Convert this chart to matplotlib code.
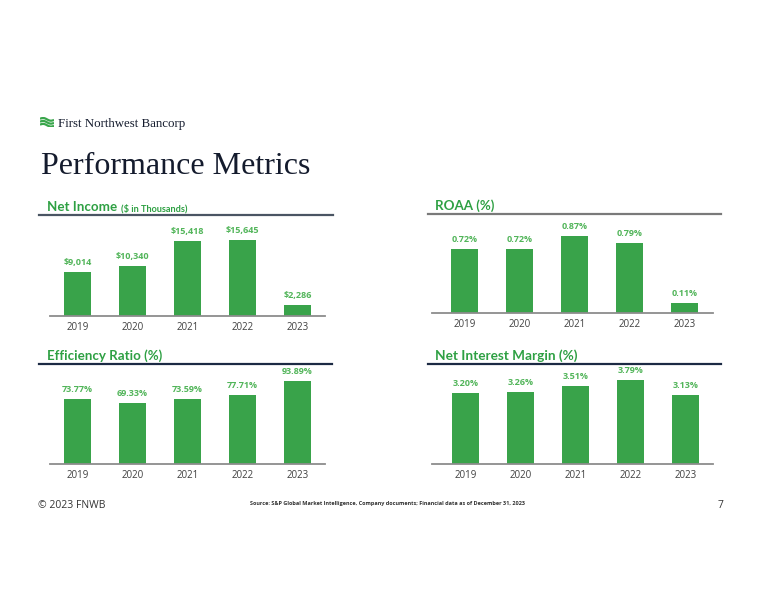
import matplotlib
matplotlib.use('Agg')
import numpy as np
import matplotlib.pyplot as plt
from matplotlib.lines import Line2D

# 数据
years = ['2019', '2020', '2021', '2022', '2023']
net_income = [9014, 10340, 15418, 15645, 2286]
roaa = [0.72, 0.72, 0.87, 0.79, 0.11]
efficiency = [73.77, 69.33, 73.59, 77.71, 93.89]
nim = [3.20, 3.26, 3.51, 3.79, 3.13]

net_income_labels = ['$%s' % format(v, ',') for v in net_income]
roaa_labels = ['%.2f%%' % v for v in roaa]
efficiency_labels = ['%.2f%%' % v for v in efficiency]
nim_labels = ['%.2f%%' % v for v in nim]

# 颜色
bar_color = '#39a34a'
label_color = '#52b55a'
title_green = '#2ea043'
navy = '#141b2d'

W, H = 780, 603
fig = plt.figure(figsize=(W / 100, H / 100), dpi=100)
fig.patch.set_facecolor('white')


def fx(x):
    return x / W


def fy(y):
    return 1 - y / H


def panel(left, right, top, base, values, labels, head_room, xlim=(-0.5, 4.5)):
    ax = fig.add_axes([fx(left), fy(base), (right - left) / W, (base - top) / H])
    ax.bar(range(len(values)), values, width=0.5, color=bar_color)
    ax.set_xlim(*xlim)
    ax.set_ylim(0, max(values) * head_room)
    ax.set_xticks(range(len(values)))
    ax.set_xticklabels(years, fontsize=7, color='#404040', family='Open Sans')
    ax.tick_params(axis='x', length=0, pad=4)
    ax.set_yticks([])
    for s in ['top', 'left', 'right']:
        ax.spines[s].set_visible(False)
    ax.spines['bottom'].set_color('#8c8c8c')
    ax.spines['bottom'].set_linewidth(1.3)
    ax.set_facecolor('none')
    for i, (v, t) in enumerate(zip(values, labels)):
        ax.annotate(t.replace('$', r'\$'), (i, v), xytext=(0, 3.5), textcoords='offset points',
                    ha='center', va='bottom', fontsize=6.5, fontweight='bold',
                    color=label_color, family='Open Sans')
    return ax


def header(x, y, line_start, x_end, text, line_color, sub=None, size=9.6):
    fig.text(fx(x), fy(y), text, fontsize=size, fontweight='bold', color=title_green,
             family='Lato', va='baseline')
    if sub:
        fig.text(fx(121), fy(y), sub, fontsize=6.6, fontweight='bold', color=title_green,
                 family='Lato', va='baseline')
    fig.add_artist(Line2D([fx(line_start), fx(x_end)], [fy(y + 4), fy(y + 4)], color=line_color,
                          linewidth=1.6, transform=fig.transFigure))


# 页眉 logo（三条绿色波浪）
logo = fig.add_axes([fx(40), fy(127), 14 / W, 10 / H])
t = np.linspace(0, 1, 30)
for k in range(3):
    logo.plot(t, k + 0.35 * np.sin(t * 2 * np.pi) - 0.4 * t, color='#3aa64c', linewidth=1.6,
              solid_capstyle='butt')
logo.set_xlim(0, 1)
logo.set_ylim(-0.8, 2.6)
logo.axis('off')

fig.text(fx(58), fy(127), 'First Northwest Bancorp', fontsize=9.3, color=navy,
         family='Liberation Serif', va='baseline')
fig.text(fx(41), fy(174), 'Performance Metrics', fontsize=23, color=navy,
         family='Liberation Serif', va='baseline')

# 子图
header(47, 211, 39, 333, 'Net Income', '#4a5563', sub=r'(\$ in Thousands)')
panel(50, 325, 215, 316, net_income, net_income_labels, 1.325)

header(435, 210, 428, 721, 'ROAA (%)', '#7a7a7a')
panel(432, 713, 214, 313, roaa, roaa_labels, 1.286, xlim=(-0.59, 4.52))

header(47, 360, 39, 332, 'Efficiency Ratio (%)', '#1c2a44')
panel(50, 325, 365, 464, efficiency, efficiency_labels, 1.19)

header(435, 360, 428, 721, 'Net Interest Margin (%)', '#1c2a44', size=9.8)
panel(432, 713, 365, 464, nim, nim_labels, 1.18, xlim=(-0.61, 4.50))

# 页脚
fig.text(fx(38), fy(505), '© 2023 FNWB', fontsize=7.5, color='#333333', family='Open Sans',
         va='center')
fig.text(fx(387), fy(504),
         'Source: S&P Global Market Intelligence, Company documents; Financial data as of December 31, 2023',
         fontsize=4.0, fontweight='bold', color='#333333', family='Open Sans', ha='center', va='center')
fig.text(fx(718), fy(505), '7', fontsize=7.5, color='#333333', family='Open Sans', va='center')

plt.savefig('out.png', dpi=100)
